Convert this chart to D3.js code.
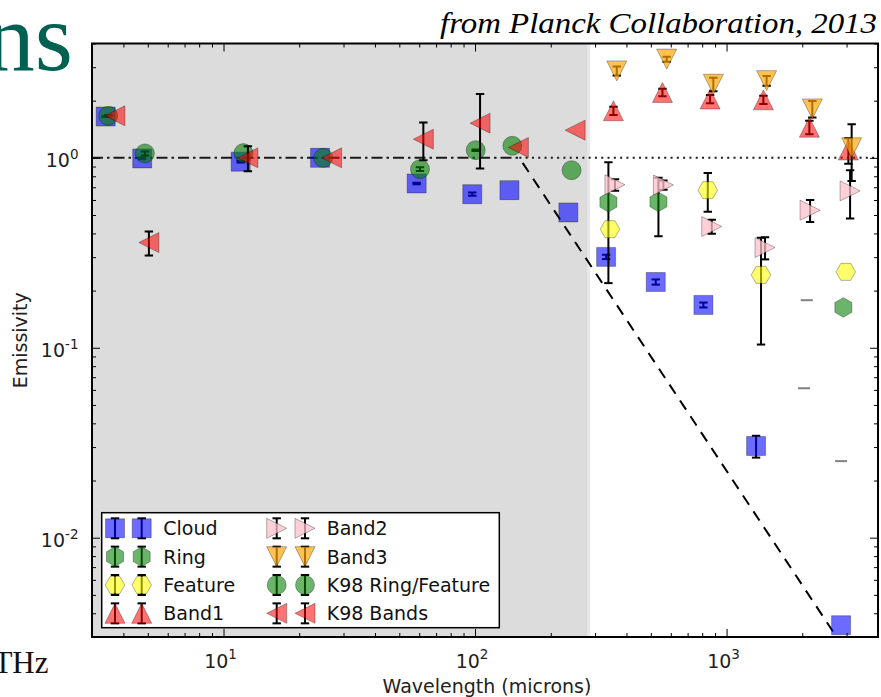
<!DOCTYPE html>
<html>
<head>
<meta charset="utf-8">
<script src="https://cdn.jsdelivr.net/npm/d3@7"></script>
<style>
  body { margin: 0; background: #fff; }
  svg { display: block; }
</style>
</head>
<body>
<div id="my_dataviz"></div>
<script>
// values: wavelength (microns), emissivity, error

// Cloud
var cloud = [
  {wl: 3.40, em: 1.65, err: 0.01},
  {wl: 4.75, em: 0.993, err: 0.01},
  {wl: 11.7, em: 0.955, err: 0.01},
  {wl: 24.2, em: 1.0, err: 0},
  {wl: 58.6, em: 0.733, err: 0.006},
  {wl: 97.5, em: 0.644, err: 0.012},
  {wl: 137, em: 0.676, err: 0},
  {wl: 235, em: 0.516, err: 0},
  {wl: 332, em: 0.301, err: 0.008},
  {wl: 523, em: 0.222, err: 0.007},
  {wl: 809, em: 0.168, err: 0.005},
  {wl: 1310, em: 0.0304, err: 0.004},
  {wl: 2853, em: 0.00346, err: 0}
];

// Ring
var ring = [
  {wl: 339, em: 0.584, err: 0.365},
  {wl: 536, em: 0.586, err: 0.2},
  {wl: 2913, em: 0.163, err: 0}
];

// Feature
var feature = [
  {wl: 344, em: 0.421, err: 0},
  {wl: 842, em: 0.676, err: 0.156},
  {wl: 1371, em: 0.242, err: 0.138},
  {wl: 2978, em: 0.251, err: 0}
];

// Band1
var band1 = [
  {wl: 355, em: 1.77, err: 0.09},
  {wl: 556, em: 2.21, err: 0.1},
  {wl: 860, em: 2.04, err: 0.1},
  {wl: 1401, em: 2.02, err: 0.1},
  {wl: 2134, em: 1.45, err: 0.12},
  {wl: 3050, em: 1.10, err: 0.17}
];

// Band2
var band2 = [
  {wl: 360, em: 0.722, err: 0.05},
  {wl: 561, em: 0.72, err: 0.04},
  {wl: 873, em: 0.435, err: 0.037},
  {wl: 1422, em: 0.337, err: 0.045},
  {wl: 2148, em: 0.530, err: 0.07},
  {wl: 3098, em: 0.67, err: 0.19}
];

// Band3
var band3 = [
  {wl: 366, em: 2.87, err: 0.16},
  {wl: 578, em: 3.31, err: 0.1},
  {wl: 886, em: 2.44, err: 0.2},
  {wl: 1443, em: 2.55, err: 0.15},
  {wl: 2192, em: 1.81, err: 0.18},
  {wl: 3143, em: 1.13, err: 0.375}
];

// K98 Ring/Feature
var k98Ring = [
  {wl: 3.48, em: 1.665, err: 0.01},
  {wl: 4.87, em: 1.055, err: 0.025},
  {wl: 12.0, em: 1.059, err: 0},
  {wl: 24.9, em: 1.0, err: 0},
  {wl: 60.4, em: 0.872, err: 0.02},
  {wl: 100.6, em: 1.098, err: 0.01},
  {wl: 140.7, em: 1.157, err: 0},
  {wl: 242, em: 0.861, err: 0}
];

// K98 Bands
var k98Bands = [
  {wl: 3.70, em: 1.665, err: 0},
  {wl: 5.05, em: 0.358, err: 0.052},
  {wl: 12.5, em: 1.0, err: 0.15},
  {wl: 26.9, em: 1.0, err: 0},
  {wl: 62.3, em: 1.254, err: 0.283},
  {wl: 104.7, em: 1.523, err: 0.643},
  {wl: 148.7, em: 1.134, err: 0},
  {wl: 250, em: 1.399, err: 0}
];

// error caps of points that fall off the log scale
var offscaleCaps = [
  {wl: 2084, em: 0.178},
  {wl: 2033, em: 0.0612},
  {wl: 2853, em: 0.0253}
];

var seriesNames = ["Cloud", "Ring", "Feature", "Band1", "Band2", "Band3", "K98 Ring/Feature", "K98 Bands"];
var seriesData = [cloud, ring, feature, band1, band2, band3, k98Ring, k98Bands];

var xMajor = [10, 100, 1000];
var yMajor = [0.01, 0.1, 1];
var xExp = ["1", "2", "3"];
var yExp = ["-2", "-1", "0"];

var breakWl = 150;     // unit emissivity below, lambda^-2 above
var shadeEdge = 283;   // right edge of the grey band (microns)

// look of each series
var styles = [
  {shape: "square", fill: "#0000ff", op: 0.58},
  {shape: "hexV", fill: "#008000", op: 0.58},
  {shape: "hexH", fill: "#ffff00", op: 0.58},
  {shape: "triUp", fill: "#ff0000", op: 0.55},
  {shape: "triRight", fill: "#ffc0cb", op: 0.75},
  {shape: "triDown", fill: "#ffa500", op: 0.68},
  {shape: "circle", fill: "#008000", op: 0.58},
  {shape: "triLeft", fill: "#ff0000", op: 0.55}
];

function shapePath(shape) {
  var h = 9.5, t = 10, r = 9.8;
  var pts;
  switch (shape) {
    case "square":
      return "M" + -h + "," + -h + "H" + h + "V" + h + "H" + -h + "Z";
    case "circle":
      return d3.symbol(d3.symbolCircle, Math.PI * h * h)();
    case "hexV":
      pts = d3.range(6).map(function(k) { var a = (-90 + 60 * k) * Math.PI / 180; return [r * Math.cos(a), r * Math.sin(a)]; });
      break;
    case "hexH":
      pts = d3.range(6).map(function(k) { var a = (60 * k) * Math.PI / 180; return [r * Math.cos(a), r * Math.sin(a)]; });
      break;
    case "triUp": pts = [[0, -t], [t, t], [-t, t]]; break;
    case "triDown": pts = [[0, t], [t, -t], [-t, -t]]; break;
    case "triLeft": pts = [[-t, 0], [t, -t], [t, t]]; break;
    case "triRight": pts = [[t, 0], [-t, -t], [-t, t]]; break;
  }
  return "M" + pts.map(function(p) { return p.join(","); }).join("L") + "Z";
}

var W = 881, H = 697;
var svg = d3.select("#my_dataviz")
  .append("svg")
    .attr("width", W)
    .attr("height", H)
    .style("font-family", "'DejaVu Sans', sans-serif");

var x = d3.scaleLog().domain([3, 4000]).range([92, 878]);
var y = d3.scaleLog().domain([0.003, 4]).range([637, 43.5]);
var x0 = x.range()[0], x1 = x.range()[1], yb = y.range()[0], yt = y.range()[1];

svg.append("defs").append("clipPath").attr("id", "clip")
  .append("rect")
    .attr("x", x0).attr("y", yt)
    .attr("width", x1 - x0).attr("height", yb - yt);

// slide text around the chart
svg.append("text")
  .attr("x", 73).attr("y", 70)
  .attr("text-anchor", "end")
  .style("font-family", "'Liberation Serif', serif")
  .style("font-size", "98px")
  .attr("fill", "#006152")
  .text("ns");

svg.append("text")
  .attr("x", 48.5).attr("y", 672.5)
  .attr("text-anchor", "end")
  .style("font-family", "'Liberation Serif', serif")
  .style("font-size", "31px")
  .attr("fill", "#111")
  .text("THz");

svg.append("text")
  .attr("x", 440).attr("y", 33)
  .attr("textLength", 437)
  .attr("lengthAdjust", "spacingAndGlyphs")
  .style("font-family", "'Liberation Serif', serif")
  .style("font-style", "italic")
  .style("font-size", "29px")
  .attr("fill", "#000")
  .text("from Planck Collaboration, 2013");

// grey band
svg.append("rect")
  .attr("x", x0).attr("y", yt)
  .attr("width", x(shadeEdge) - x0).attr("height", yb - yt)
  .attr("fill", "#dcdcdc");
svg.append("rect")
  .attr("x", x(shadeEdge) - 1.5).attr("y", yt)
  .attr("width", 3).attr("height", yb - yt)
  .attr("fill", "#e8e8e8");

var plot = svg.append("g").attr("clip-path", "url(#clip)");

// reference lines
plot.append("line")
  .attr("x1", x(3)).attr("x2", x(breakWl))
  .attr("y1", y(1)).attr("y2", y(1))
  .attr("stroke", "#1a1a1a").attr("stroke-width", 2)
  .attr("stroke-dasharray", "11,4,2.5,4");
plot.append("line")
  .attr("x1", x(breakWl)).attr("x2", x(4000))
  .attr("y1", y(1)).attr("y2", y(1))
  .attr("stroke", "#1a1a1a").attr("stroke-width", 2)
  .attr("stroke-dasharray", "2,4.3");
plot.append("line")
  .attr("x1", x(breakWl)).attr("x2", x(4000))
  .attr("y1", y(1)).attr("y2", y(Math.pow(4000 / breakWl, -2)))
  .attr("stroke", "#000").attr("stroke-width", 2)
  .attr("stroke-dasharray", "11,8")
  .attr("stroke-dashoffset", -6);

// series: error bars first, then markers
var capW = 4.2;
seriesData.forEach(function(data, i) {
  var st = styles[i];
  var withErr = data.filter(function(d) { return d.err > 0; });
  var eb = plot.append("g").attr("stroke", "#000").attr("stroke-width", 2);
  eb.selectAll(".bar").data(withErr).enter().append("line")
    .attr("x1", function(d) { return x(d.wl); })
    .attr("x2", function(d) { return x(d.wl); })
    .attr("y1", function(d) { return y(d.em + d.err); })
    .attr("y2", function(d) { return y(d.em - d.err); });
  eb.selectAll(".capT").data(withErr).enter().append("line")
    .attr("x1", function(d) { return x(d.wl) - capW; })
    .attr("x2", function(d) { return x(d.wl) + capW; })
    .attr("y1", function(d) { return y(d.em + d.err); })
    .attr("y2", function(d) { return y(d.em + d.err); });
  eb.selectAll(".capB").data(withErr).enter().append("line")
    .attr("x1", function(d) { return x(d.wl) - capW; })
    .attr("x2", function(d) { return x(d.wl) + capW; })
    .attr("y1", function(d) { return y(d.em - d.err); })
    .attr("y2", function(d) { return y(d.em - d.err); });

  plot.append("g").selectAll("path").data(data).enter().append("path")
    .attr("d", shapePath(st.shape))
    .attr("transform", function(d) { return "translate(" + x(d.wl) + "," + y(d.em) + ")"; })
    .attr("fill", st.fill)
    .attr("fill-opacity", st.op)
    .attr("stroke", "#000")
    .attr("stroke-opacity", 0.3)
    .attr("stroke-width", 1);
});

plot.append("g").selectAll("line").data(offscaleCaps).enter().append("line")
  .attr("x1", function(d) { return x(d.wl) - 6; })
  .attr("x2", function(d) { return x(d.wl) + 6; })
  .attr("y1", function(d) { return y(d.em); })
  .attr("y2", function(d) { return y(d.em); })
  .attr("stroke", "#808080").attr("stroke-width", 2);

// ticks, pointing inward on all four sides
function isMajor(v) { var l = Math.log10(v); return Math.abs(l - Math.round(l)) < 1e-6; }
var xMinor = x.ticks().filter(function(v) { return !isMajor(v); });
var yMinor = y.ticks().filter(function(v) { return !isMajor(v); });

function tickAxis(axis, vals, len, tr) {
  var g = svg.append("g").attr("transform", tr)
    .call(axis.tickValues(vals).tickSize(-len).tickFormat(""));
  g.select(".domain").remove();
  g.selectAll("line").attr("stroke", "#000").attr("stroke-width", 1);
}
tickAxis(d3.axisBottom(x), xMajor, 8, "translate(0," + yb + ")");
tickAxis(d3.axisBottom(x), xMinor, 4, "translate(0," + yb + ")");
tickAxis(d3.axisTop(x), xMajor, 8, "translate(0," + yt + ")");
tickAxis(d3.axisTop(x), xMinor, 4, "translate(0," + yt + ")");
tickAxis(d3.axisLeft(y), yMajor, 8, "translate(" + x0 + ",0)");
tickAxis(d3.axisLeft(y), yMinor, 4, "translate(" + x0 + ",0)");
tickAxis(d3.axisRight(y), yMajor, 8, "translate(" + x1 + ",0)");
tickAxis(d3.axisRight(y), yMinor, 4, "translate(" + x1 + ",0)");

// frame
svg.append("rect")
  .attr("x", x0).attr("y", yt)
  .attr("width", x1 - x0).attr("height", yb - yt)
  .attr("fill", "none").attr("stroke", "#000").attr("stroke-width", 2);

// tick labels as 10 with a superscript
svg.append("g").selectAll("text").data(xMajor).enter().append("text")
  .attr("x", function(d) { return x(d) - 3; })
  .attr("y", yb + 30.5)
  .attr("text-anchor", "middle")
  .style("font-size", "19px")
  .attr("fill", "#222")
  .each(function(d, i) {
    var t = d3.select(this);
    t.append("tspan").text("10");
    t.append("tspan").attr("dy", -9).style("font-size", "13.5px").text(xExp[i]);
  });

svg.append("g").selectAll("text").data(yMajor).enter().append("text")
  .attr("x", x0 - 13.5)
  .attr("y", function(d) { return y(d) + 9.5; })
  .attr("text-anchor", "end")
  .style("font-size", "19px")
  .attr("fill", "#222")
  .each(function(d, i) {
    var t = d3.select(this);
    t.append("tspan").text("10");
    t.append("tspan").attr("dy", -8.5).style("font-size", "13.5px").text(yExp[i]);
  });

svg.append("text")
  .attr("x", (x0 + x1) / 2 + 2).attr("y", 692.5)
  .attr("text-anchor", "middle")
  .style("font-size", "19px")
  .attr("fill", "#222")
  .text("Wavelength (microns)");

svg.append("text")
  .attr("transform", "translate(27," + (yt + yb) / 2 + ") rotate(-90)")
  .attr("text-anchor", "middle")
  .style("font-size", "19px")
  .attr("fill", "#222")
  .text("Emissivity");

// legend
var leg = svg.append("g");
leg.append("rect")
  .attr("x", 101.7).attr("y", 512.7)
  .attr("width", 397.6).attr("height", 115)
  .attr("fill", "#fff").attr("stroke", "#000").attr("stroke-width", 1.5);

var colMarks = [[115, 141.7], [276.7, 305]];
var colText = [163.3, 326.7];
seriesNames.forEach(function(name, i) {
  var col = i < 4 ? 0 : 1, row = i % 4;
  var cy = 528.3 + row * 28.35;
  var st = styles[i];
  colMarks[col].forEach(function(mx) {
    var e = leg.append("g").attr("stroke", "#000").attr("stroke-width", 2);
    e.append("line").attr("x1", mx).attr("x2", mx).attr("y1", cy - 10).attr("y2", cy + 10);
    e.append("line").attr("x1", mx - capW).attr("x2", mx + capW).attr("y1", cy - 10).attr("y2", cy - 10);
    e.append("line").attr("x1", mx - capW).attr("x2", mx + capW).attr("y1", cy + 10).attr("y2", cy + 10);
    leg.append("path")
      .attr("d", shapePath(st.shape))
      .attr("transform", "translate(" + mx + "," + cy + ")")
      .attr("fill", st.fill)
      .attr("fill-opacity", st.op)
      .attr("stroke", "#000")
      .attr("stroke-opacity", 0.3)
      .attr("stroke-width", 1);
  });
  leg.append("text")
    .attr("x", colText[col]).attr("y", cy + 7)
    .style("font-size", "19px")
    .attr("fill", "#111")
    .text(name);
});
</script>
</body>
</html>
